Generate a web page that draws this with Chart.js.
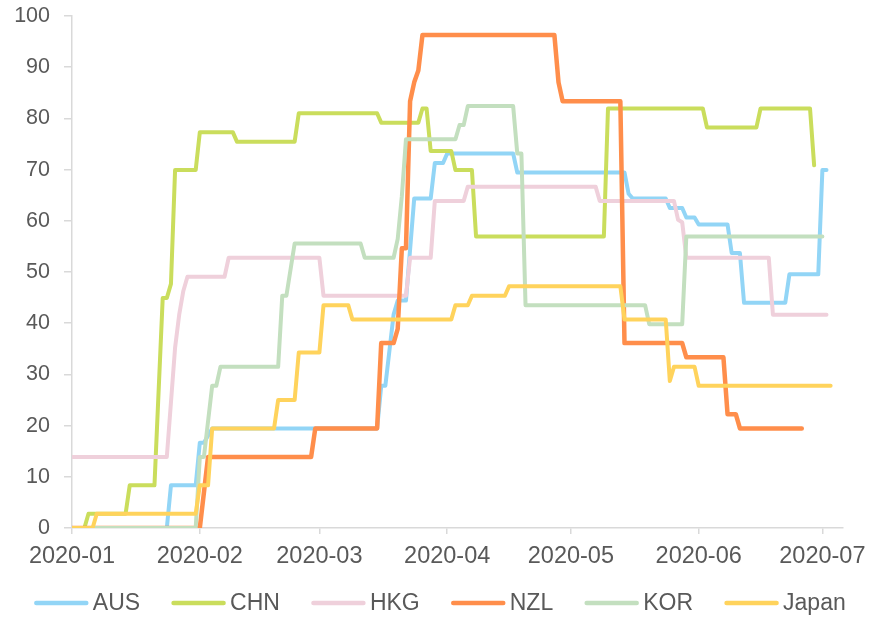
<!DOCTYPE html>
<html>
<head>
<meta charset="utf-8">
<title>Stringency index</title>
<script src="https://cdn.jsdelivr.net/npm/chart.js@4.4.1/dist/chart.umd.min.js"></script>
<style>
  html, body { margin: 0; padding: 0; background: #ffffff; }
  #wrap { position: relative; width: 869px; height: 617px; }
</style>
</head>
<body>
<div id="wrap"><canvas id="stringencyChart"></canvas></div>
<script>
// series, in legend order (later ones are drawn on top)
const COUNTRIES = ['AUS', 'CHN', 'HKG', 'NZL', 'KOR', 'Japan'];
const COLORS = ['#92d5f6', '#cadd5c', '#efd0db', '#ff8e4b', '#c3dfbf', '#ffd35c'];
const WIDTHS = [4, 4, 4, 4.5, 4, 4];

// change points of each index (value holds between listed dates)
const AUS_DATES = ['2020-01-01', '2020-01-24', '2020-01-25', '2020-01-31', '2020-02-01', '2020-02-02', '2020-02-04',
  '2020-03-15', '2020-03-16', '2020-03-17', '2020-03-19', '2020-03-20', '2020-03-22', '2020-03-24', '2020-03-28',
  '2020-03-29', '2020-03-31', '2020-04-01', '2020-04-17', '2020-04-18', '2020-05-14', '2020-05-15', '2020-05-16',
  '2020-05-24', '2020-05-25', '2020-05-28', '2020-05-29', '2020-05-31', '2020-06-01', '2020-06-08', '2020-06-09',
  '2020-06-11', '2020-06-12', '2020-06-22', '2020-06-23', '2020-06-30', '2020-07-01', '2020-07-02'];
const AUS_VALUES = [0, 0, 8.33, 8.33, 16.67, 16.67, 19.44,
  19.44, 27.78, 27.78, 41.67, 44.44, 44.44, 64.35, 64.35,
  71.3, 71.3, 73.15, 73.15, 69.44, 69.44, 65.28, 64.35,
  64.35, 62.5, 62.5, 60.65, 60.65, 59.26, 59.26, 53.7,
  53.7, 43.98, 43.98, 49.54, 49.54, 69.91, 69.91];

const CHN_DATES = ['2020-01-01', '2020-01-04', '2020-01-05', '2020-01-14', '2020-01-15', '2020-01-21', '2020-01-23',
  '2020-01-24', '2020-01-25', '2020-01-26', '2020-01-31', '2020-02-01', '2020-02-09', '2020-02-10', '2020-02-24',
  '2020-02-25', '2020-03-15', '2020-03-16', '2020-03-25', '2020-03-26', '2020-03-27', '2020-03-28', '2020-04-02',
  '2020-04-03', '2020-04-07', '2020-04-08', '2020-05-09', '2020-05-10', '2020-06-02', '2020-06-03', '2020-06-15',
  '2020-06-16', '2020-06-28', '2020-06-29'];
const CHN_VALUES = [0, 0, 2.78, 2.78, 8.33, 8.33, 44.91,
  44.91, 47.69, 69.91, 69.91, 77.31, 77.31, 75.46, 75.46,
  81.02, 81.02, 79.17, 79.17, 81.94, 81.94, 73.61, 73.61,
  69.91, 69.91, 56.94, 56.94, 81.94, 81.94, 78.24, 78.24,
  81.94, 81.94, 70.83];

const HKG_DATES = ['2020-01-01', '2020-01-24', '2020-01-26', '2020-01-27', '2020-01-28', '2020-01-29', '2020-02-07',
  '2020-02-08', '2020-03-01', '2020-03-02', '2020-03-22', '2020-03-23', '2020-03-28', '2020-03-29', '2020-04-05',
  '2020-04-06', '2020-05-07', '2020-05-08', '2020-05-26', '2020-05-27', '2020-05-28', '2020-05-29', '2020-06-18',
  '2020-06-19', '2020-07-02'];
const HKG_VALUES = [13.89, 13.89, 35.19, 41.67, 46.3, 49.07, 49.07,
  52.78, 52.78, 45.37, 45.37, 52.78, 52.78, 63.89, 63.89,
  66.67, 66.67, 63.89, 63.89, 60.19, 59.72, 52.78, 52.78,
  41.67, 41.67];

const NZL_DATES = ['2020-01-01', '2020-02-01', '2020-02-03', '2020-02-28', '2020-02-29', '2020-03-15', '2020-03-16',
  '2020-03-19', '2020-03-20', '2020-03-21', '2020-03-22', '2020-03-23', '2020-03-24', '2020-03-25', '2020-03-26',
  '2020-04-27', '2020-04-28', '2020-04-29', '2020-05-13', '2020-05-14', '2020-05-28', '2020-05-29', '2020-06-07',
  '2020-06-08', '2020-06-10', '2020-06-11', '2020-06-26'];
const NZL_VALUES = [0, 0, 13.89, 13.89, 19.44, 19.44, 36.11,
  36.11, 38.89, 54.63, 54.63, 83.33, 87.04, 89.35, 96.3,
  96.3, 87.04, 83.33, 83.33, 36.11, 36.11, 33.33, 33.33,
  22.22, 22.22, 19.44, 19.44];

const KOR_DATES = ['2020-01-01', '2020-01-31', '2020-02-01', '2020-02-02', '2020-02-04', '2020-02-05', '2020-02-06',
  '2020-02-20', '2020-02-21', '2020-02-22', '2020-02-24', '2020-03-11', '2020-03-12', '2020-03-19', '2020-03-20',
  '2020-03-21', '2020-03-22', '2020-04-03', '2020-04-04', '2020-04-05', '2020-04-06', '2020-04-17', '2020-04-18',
  '2020-04-19', '2020-04-20', '2020-05-19', '2020-05-20', '2020-05-28', '2020-05-29', '2020-07-01'];
const KOR_VALUES = [0, 0, 13.89, 13.89, 27.78, 27.78, 31.48,
  31.48, 45.37, 45.37, 55.56, 55.56, 52.78, 52.78, 56.48,
  64.81, 75.93, 75.93, 78.7, 78.7, 82.41, 82.41, 73.15,
  73.15, 43.52, 43.52, 39.81, 39.81, 56.94, 56.94];

const JPN_DATES = ['2020-01-01', '2020-01-06', '2020-01-07', '2020-01-31', '2020-02-01', '2020-02-03', '2020-02-04',
  '2020-02-19', '2020-02-20', '2020-02-24', '2020-02-25', '2020-03-01', '2020-03-02', '2020-03-08', '2020-03-09',
  '2020-04-02', '2020-04-03', '2020-04-06', '2020-04-07', '2020-04-15', '2020-04-16', '2020-05-13', '2020-05-14',
  '2020-05-24', '2020-05-25', '2020-05-26', '2020-05-31', '2020-06-01', '2020-07-03'];
const JPN_VALUES = [0, 0, 2.78, 2.78, 8.33, 8.33, 19.44,
  19.44, 25, 25, 34.26, 34.26, 43.52, 43.52, 40.74,
  40.74, 43.52, 43.52, 45.37, 45.37, 47.22, 47.22, 40.74,
  40.74, 28.7, 31.48, 31.48, 27.78, 27.78];

const SERIES_DATES = [AUS_DATES, CHN_DATES, HKG_DATES, NZL_DATES, KOR_DATES, JPN_DATES];
const SERIES_VALUES = [AUS_VALUES, CHN_VALUES, HKG_VALUES, NZL_VALUES, KOR_VALUES, JPN_VALUES];

// month ticks on the x axis
const TICK_DATES = ['2020-01-01', '2020-02-01', '2020-03-01', '2020-04-01', '2020-05-01', '2020-06-01', '2020-07-01'];
const TICK_LABELS = ['2020-01', '2020-02', '2020-03', '2020-04', '2020-05', '2020-06', '2020-07'];
const X_START = '2020-01-01';
const X_END = '2020-07-06';

const FONT = '"Liberation Sans", Arial, sans-serif';
const TEXT_COLOR = '#595959';
const AXIS_COLOR = '#d9d9d9';

const DAY0 = Date.parse(X_START);
function dayOf(s) {
    return (Date.parse(s) - DAY0) / 86400000;
}

// legend drawn as a single row under the axis
const legendRow = {
    id: 'legendRow',
    afterDraw(chart) {
        const ctx = chart.ctx;
        const lineLen = 54, gap = 4.5, spacing = 31.5, y = 603;
        ctx.save();
        ctx.font = '23px ' + FONT;
        ctx.textBaseline = 'middle';
        const sets = chart.data.datasets;
        const widths = sets.map(ds => lineLen + gap + ctx.measureText(ds.label).width);
        const total = widths.reduce((a, b) => a + b, 0) + spacing * (sets.length - 1);
        let x = 440 - total / 2;
        sets.forEach((ds, i) => {
            ctx.strokeStyle = ds.borderColor;
            ctx.lineWidth = 4.5;
            ctx.lineCap = 'round';
            ctx.beginPath();
            ctx.moveTo(x + 2, y);
            ctx.lineTo(x + lineLen - 2, y);
            ctx.stroke();
            ctx.fillStyle = TEXT_COLOR;
            ctx.fillText(ds.label, x + lineLen + gap, y + 1);
            x += widths[i] + spacing;
        });
        ctx.restore();
    }
};

const datasets = COUNTRIES.map((name, i) => ({
    label: name,
    data: SERIES_DATES[i].map((d, j) => ({ x: dayOf(d), y: SERIES_VALUES[i][j] })),
    borderColor: COLORS[i],
    backgroundColor: COLORS[i],
    borderWidth: WIDTHS[i],
    borderJoinStyle: 'round',
    borderCapStyle: 'round',
    pointRadius: 0,
    tension: 0,
    fill: false,
    order: COUNTRIES.length - i,
}));

new Chart(document.getElementById('stringencyChart'), {
    type: 'line',
    data: { datasets: datasets },
    options: {
        responsive: true,
        maintainAspectRatio: false,
        animation: false,
        layout: { padding: { top: 16, right: 26, bottom: 0, left: 0 } },
        plugins: {
            legend: { display: false },
            tooltip: { enabled: false },
        },
        scales: {
            x: {
                type: 'linear',
                min: dayOf(X_START),
                max: dayOf(X_END),
                afterBuildTicks(scale) {
                    scale.ticks = TICK_DATES.map(d => ({ value: dayOf(d) }));
                },
                afterFit(scale) {
                    scale.height = 89;
                    scale.paddingLeft = 0;
                    scale.paddingRight = 0;
                },
                ticks: {
                    autoSkip: false,
                    maxRotation: 0,
                    padding: 8,
                    color: TEXT_COLOR,
                    font: { family: FONT, size: 23.5 },
                    callback: (value, index) => TICK_LABELS[index],
                },
                grid: { drawOnChartArea: false, drawTicks: true, tickLength: 6, color: AXIS_COLOR, lineWidth: 1.5 },
                border: { color: AXIS_COLOR, width: 1.5 },
            },
            y: {
                min: 0,
                max: 100,
                afterFit(scale) {
                    scale.width = 72;
                    scale.paddingTop = 0;
                    scale.paddingBottom = 0;
                },
                ticks: {
                    stepSize: 10,
                    padding: 14,
                    color: TEXT_COLOR,
                    font: { family: FONT, size: 21.5 },
                },
                grid: { drawOnChartArea: false, drawTicks: true, tickLength: 8, color: AXIS_COLOR, lineWidth: 1.5 },
                border: { color: AXIS_COLOR, width: 1.5 },
            },
        },
    },
    plugins: [legendRow],
});
</script>
</body>
</html>
